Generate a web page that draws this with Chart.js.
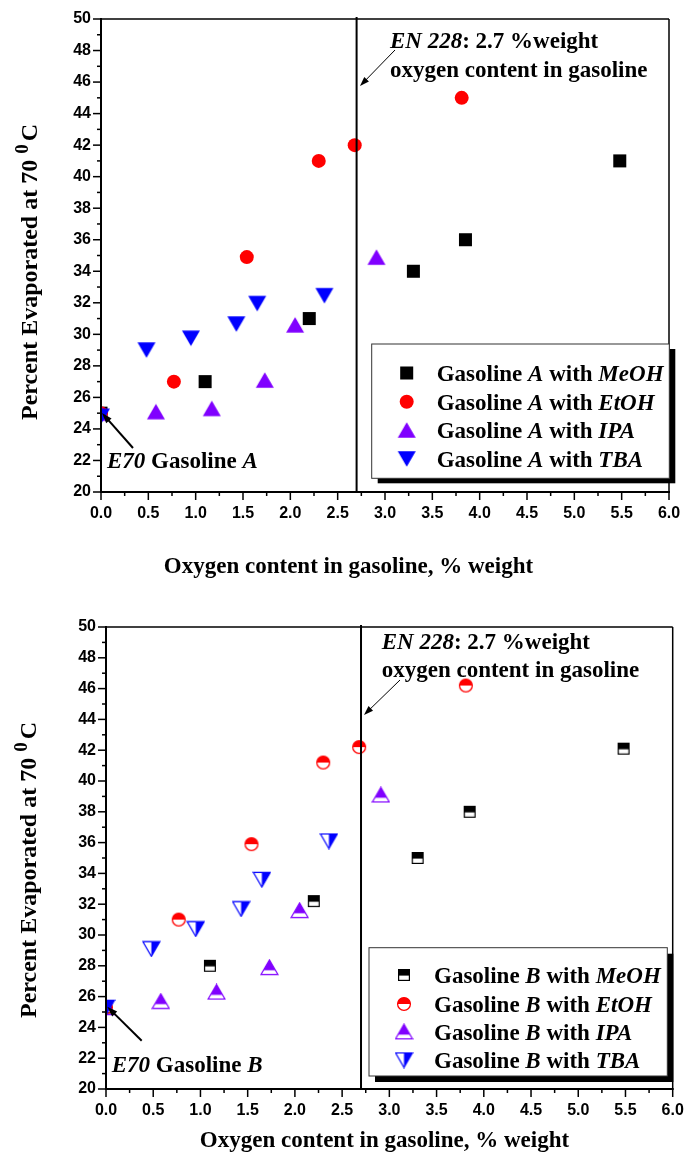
<!DOCTYPE html>
<html>
<head>
<meta charset="utf-8">
<script src="https://cdn.jsdelivr.net/npm/chart.js@4.4.1/dist/chart.umd.min.js"></script>
<style>
  html, body { margin: 0; padding: 0; background: #fff; }
  canvas { display: block; }
</style>
</head>
<body>
<canvas id="chartA" width="686" height="590"></canvas>
<canvas id="chartB" width="686" height="565"></canvas>
<script>
// Oxygen content in gasoline, % weight (x values for each additive)
const meohO2 = [0, 1.1, 2.2, 3.3, 3.85, 5.48];
const etohO2 = [0, 0.77, 1.54, 2.3, 2.68, 3.81];
const ipaO2 = [0, 0.58, 1.17, 1.73, 2.05, 2.91];
const tbaO2 = [0, 0.48, 0.95, 1.43, 1.65, 2.36];

// Percent evaporated at 70 C, gasoline A
const meohA = [25, 27, 31, 34, 36, 41];
const etohA = [25, 27, 34.9, 41, 42, 45];
const ipaA = [25, 25.1, 25.3, 27.1, 30.6, 34.9];
const tbaA = [24.8, 29, 29.75, 30.65, 31.95, 32.45];

// Percent evaporated at 70 C, gasoline B
const meohB = [25.3, 28, 32.2, 35, 38, 42.1];
const etohB = [25.3, 31, 35.9, 41.2, 42.2, 46.2];
const ipaB = [25.3, 25.7, 26.3, 27.9, 31.6, 39.1];
const tbaB = [25.3, 29.1, 30.4, 31.7, 33.6, 36.1];

const additives = ['MeOH', 'EtOH', 'IPA', 'TBA'];
const oxygenX = [meohO2, etohO2, ipaO2, tbaO2];

// Axis ranges and tick steps
const xMin = 0, xMax = 6, xStep = 0.5;
const yMin = 20, yMax = 50, yStep = 2;
const enLimit = 2.7; // EN 228 oxygen limit, % weight

const SERIF = '"Liberation Serif", "Times New Roman", serif';
const SANS = '"Liberation Sans", Arial, sans-serif';
const PURPLE = '#8000ff';

// Small canvas used as a custom point style
function markerCanvas(w, h, draw) {
    const c = document.createElement('canvas');
    c.width = w;
    c.height = h;
    draw(c.getContext('2d'));
    return c;
}

function triPath(ctx, pts) {
    ctx.beginPath();
    ctx.moveTo(pts[0][0], pts[0][1]);
    ctx.lineTo(pts[1][0], pts[1][1]);
    ctx.lineTo(pts[2][0], pts[2][1]);
    ctx.closePath();
}

// Filled triangles (gasoline A)
const upFull = markerCanvas(20, 18, ctx => {
    triPath(ctx, [[10, 1.2], [1, 16.8], [19, 16.8]]);
    ctx.fillStyle = PURPLE;
    ctx.fill();
});
const downFull = markerCanvas(20, 18, ctx => {
    triPath(ctx, [[1, 1.2], [19, 1.2], [10, 16.8]]);
    ctx.fillStyle = '#0000ff';
    ctx.fill();
});

// Half filled markers (gasoline B)
const squareHalf = markerCanvas(14, 14, ctx => {
    ctx.fillStyle = '#000';
    ctx.fillRect(1, 1, 12, 6.6);
    ctx.strokeStyle = '#000';
    ctx.lineWidth = 1.2;
    ctx.strokeRect(1.6, 1.6, 10.8, 10.8);
});
const circleHalf = markerCanvas(16, 16, ctx => {
    ctx.fillStyle = '#ff0000';
    ctx.beginPath();
    ctx.arc(8, 8, 6.6, Math.PI, 2 * Math.PI);
    ctx.closePath();
    ctx.fill();
    ctx.strokeStyle = '#ff0000';
    ctx.lineWidth = 1.3;
    ctx.beginPath();
    ctx.arc(8, 8, 6.4, 0, 2 * Math.PI);
    ctx.stroke();
});
const upHalf = markerCanvas(19, 17, ctx => {
    const pts = [[9.5, 1], [1, 15.7], [18, 15.7]];
    ctx.save();
    triPath(ctx, pts);
    ctx.clip();
    ctx.fillStyle = PURPLE;
    ctx.fillRect(0, 0, 19, 11.4);
    ctx.restore();
    ctx.strokeStyle = PURPLE;
    ctx.lineWidth = 1.2;
    triPath(ctx, pts);
    ctx.stroke();
});
const downHalf = markerCanvas(19, 17, ctx => {
    const pts = [[1, 1.3], [18, 1.3], [9.5, 16]];
    ctx.save();
    triPath(ctx, pts);
    ctx.clip();
    ctx.fillStyle = '#0000ff';
    ctx.fillRect(9.5, 0, 10, 17);
    ctx.restore();
    ctx.strokeStyle = '#0000ff';
    ctx.lineWidth = 1.2;
    triPath(ctx, pts);
    ctx.stroke();
});

const stylesA = [
    { pointStyle: 'rect', pointRadius: 9.2, color: '#000' },
    { pointStyle: 'circle', pointRadius: 7, color: '#ff0000' },
    { pointStyle: upFull, pointRadius: 9, color: PURPLE },
    { pointStyle: downFull, pointRadius: 9, color: '#0000ff' }
];
const stylesB = [
    { pointStyle: squareHalf, pointRadius: 7, color: '#000' },
    { pointStyle: circleHalf, pointRadius: 7, color: '#ff0000' },
    { pointStyle: upHalf, pointRadius: 8, color: PURPLE },
    { pointStyle: downHalf, pointRadius: 8, color: '#0000ff' }
];

function line(ctx, x1, y1, x2, y2) {
    ctx.beginPath();
    ctx.moveTo(x1, y1);
    ctx.lineTo(x2, y2);
    ctx.stroke();
}

// Text made of bold / bold italic pieces
function drawRich(ctx, parts, x, y, size) {
    let cx = x;
    for (const [txt, it] of parts) {
        ctx.font = (it ? 'italic ' : '') + 'bold ' + size + 'px ' + SERIF;
        ctx.fillText(txt, cx, y);
        cx += ctx.measureText(txt).width;
    }
    return cx;
}

function arrow(ctx, x1, y1, x2, y2, w, head) {
    const ang = Math.atan2(y2 - y1, x2 - x1);
    ctx.lineWidth = w;
    line(ctx, x1, y1, x2 - Math.cos(ang) * head * 0.6, y2 - Math.sin(ang) * head * 0.6);
    ctx.beginPath();
    ctx.moveTo(x2, y2);
    ctx.lineTo(x2 - head * Math.cos(ang - 0.33), y2 - head * Math.sin(ang - 0.33));
    ctx.lineTo(x2 - head * Math.cos(ang + 0.33), y2 - head * Math.sin(ang + 0.33));
    ctx.closePath();
    ctx.fill();
}

function drawMarker(ctx, st, x, y) {
    if (typeof st.pointStyle === 'object') {
        ctx.drawImage(st.pointStyle, x - st.pointStyle.width / 2, y - st.pointStyle.height / 2);
    } else if (st.pointStyle === 'rect') {
        const s = st.pointRadius * Math.SQRT1_2;
        ctx.fillStyle = st.color;
        ctx.fillRect(x - s, y - s, 2 * s, 2 * s);
    } else {
        ctx.fillStyle = st.color;
        ctx.beginPath();
        ctx.arc(x, y, st.pointRadius, 0, 2 * Math.PI);
        ctx.fill();
    }
}

// Frame, ticks and EN 228 line over the points; notes, legend and titles at the end
const decorPlugin = {
    id: 'decor',
    afterDatasetsDraw(chart) {
        const { ctx, chartArea: a, scales: { x, y } } = chart;
        ctx.save();
        ctx.strokeStyle = '#000';
        ctx.fillStyle = '#000';
        ctx.lineWidth = 1.5;
        line(ctx, a.left, a.top, a.right, a.top);
        line(ctx, a.right, a.top, a.right, a.bottom);
        ctx.lineWidth = 2;
        line(ctx, a.left, a.top - 1, a.left, a.bottom + 1);
        line(ctx, a.left - 1, a.bottom, a.right + 1, a.bottom);

        ctx.lineWidth = 1.5;
        for (let v = yMin; v <= yMax; v += 1) {
            const py = y.getPixelForValue(v);
            line(ctx, a.left - (v % yStep === 0 ? 8 : 4), py, a.left, py);
        }
        for (let i = 0; i <= (xMax - xMin) / (xStep / 2); i++) {
            const px = x.getPixelForValue(xMin + i * xStep / 2);
            line(ctx, px, a.bottom, px, a.bottom + (i % 2 === 0 ? 8 : 4));
        }

        // EN 228 limit
        ctx.lineWidth = 2;
        const lx = x.getPixelForValue(enLimit);
        line(ctx, lx, a.top - 2, lx, a.bottom);
        ctx.restore();
    },
    afterDraw(chart) {
        const p = chart.options.plugins.decor;
        const ctx = chart.ctx;
        ctx.save();
        ctx.fillStyle = '#000';
        ctx.strokeStyle = '#000';
        ctx.textBaseline = 'alphabetic';
        ctx.textAlign = 'left';

        // EN 228 note
        drawRich(ctx, [['EN 228', true], [': 2.7 %weight', false]], p.note.x, p.note.base[0], 23);
        drawRich(ctx, [['oxygen content in gasoline', false]], p.note.x, p.note.base[1], 23);
        arrow(ctx, ...p.note.arrow, 1, 10);

        // E70 note
        drawRich(ctx, [['E70', true], [' Gasoline ', false], [p.gasoline, true]], p.e70.x, p.e70.base, 23);
        arrow(ctx, ...p.e70.arrow, 2, 11);

        // Legend with shadow
        const [bx1, by1, bx2, by2] = p.legend.box;
        ctx.fillStyle = '#000';
        ctx.fillRect(bx1 + p.legend.shadow[0], by1 + p.legend.shadow[1], bx2 - bx1, by2 - by1);
        ctx.fillStyle = '#fff';
        ctx.fillRect(bx1, by1, bx2 - bx1, by2 - by1);
        ctx.strokeStyle = '#333';
        ctx.lineWidth = 1;
        ctx.strokeRect(bx1, by1, bx2 - bx1, by2 - by1);
        p.styles.forEach((st, i) => {
            const ry = p.legend.rows[i];
            drawMarker(ctx, st, p.legend.markerX, ry);
            ctx.fillStyle = '#000';
            drawRich(ctx, [['Gasoline ', false], [p.gasoline, true], [' with ', false], [additives[i], true]],
                p.legend.textX, ry + 8, 23);
        });

        // X title
        ctx.font = 'bold 23px ' + SERIF;
        ctx.textAlign = 'center';
        ctx.fillText('Oxygen content in gasoline, % weight', p.xTitle.x, p.xTitle.base);

        // Y title with superscript
        ctx.textAlign = 'left';
        ctx.translate(p.yTitle.x, p.yTitle.y);
        ctx.rotate(-Math.PI / 2);
        ctx.font = 'bold 24px ' + SERIF;
        const main = 'Percent Evaporated at 70 ';
        ctx.fillText(main, 0, 0);
        let cx = ctx.measureText(main).width;
        ctx.font = 'bold 19px ' + SERIF;
        ctx.fillText('0', cx, -9);
        cx += ctx.measureText('0').width + 3;
        ctx.font = 'bold 24px ' + SERIF;
        ctx.fillText('C', cx, 0);
        ctx.restore();
    }
};

class PanelChart {
    constructor(canvasId) {
        this.canvasId = canvasId;
        this.chart = null;
    }

    // Build one scatter panel
    init(seriesY, styles, decor) {
        const canvas = document.getElementById(this.canvasId);
        const W = canvas.width, H = canvas.height;
        const area = decor.area;
        const datasets = seriesY.map((ys, i) => ({
            label: 'Gasoline ' + decor.gasoline + ' with ' + additives[i],
            data: oxygenX[i].map((v, k) => ({ x: v, y: ys[k] })),
            pointStyle: styles[i].pointStyle,
            pointRadius: styles[i].pointRadius,
            backgroundColor: styles[i].color,
            borderColor: styles[i].color,
            borderWidth: 0,
            showLine: false,
            clip: 0,
            order: 3 - i
        }));
        const tickFont = { family: SANS, weight: 'bold', size: 16 };
        this.chart = new Chart(canvas.getContext('2d'), {
            type: 'scatter',
            data: { datasets: datasets },
            options: {
                responsive: false,
                animation: false,
                events: [],
                layout: { padding: { left: 0, top: area.top, right: W - area.right, bottom: 0 } },
                plugins: {
                    legend: { display: false },
                    tooltip: { enabled: false },
                    decor: Object.assign({ styles: styles }, decor)
                },
                scales: {
                    x: {
                        type: 'linear', min: xMin, max: xMax,
                        afterFit: s => {
                            s.height = H - area.bottom;
                            s.paddingLeft = 0;
                            s.paddingRight = 0;
                        },
                        grid: { display: false, drawTicks: false },
                        border: { display: false },
                        ticks: {
                            stepSize: xStep, autoSkip: false, maxRotation: 0, padding: 12,
                            color: '#000', font: tickFont,
                            callback: v => Number(v).toFixed(1)
                        }
                    },
                    y: {
                        type: 'linear', min: yMin, max: yMax,
                        afterFit: s => {
                            s.width = area.left;
                            s.paddingTop = 0;
                            s.paddingBottom = 0;
                        },
                        grid: { display: false, drawTicks: false },
                        border: { display: false },
                        ticks: {
                            stepSize: yStep, padding: 10, color: '#000', font: tickFont,
                            callback: v => String(v)
                        }
                    }
                }
            },
            plugins: [decorPlugin]
        });
    }
}

new PanelChart('chartA').init([meohA, etohA, ipaA, tbaA], stylesA, {
    gasoline: 'A',
    area: { left: 101, top: 19, right: 669, bottom: 492 },
    legend: { box: [371.7, 344, 669.3, 478.3], shadow: [6, 5], markerX: 406.7, textX: 436.7, rows: [373, 401.7, 430, 459] },
    note: { x: 390, base: [48, 77], arrow: [395, 50, 360, 86] },
    e70: { x: 107, base: 468, arrow: [133, 448, 102, 413] },
    yTitle: { x: 37, y: 420 },
    xTitle: { x: 348.5, base: 573 }
});

new PanelChart('chartB').init([meohB, etohB, ipaB, tbaB], stylesB, {
    gasoline: 'B',
    area: { left: 106, top: 37, right: 672.7, bottom: 499 },
    legend: { box: [369, 357.7, 667.3, 486], shadow: [6, 6], markerX: 404, textX: 434, rows: [385, 414, 441.7, 470] },
    note: { x: 381.7, base: [59.3, 86.7], arrow: [400, 90, 364, 125] },
    e70: { x: 111.7, base: 481.7, arrow: [141.7, 450.7, 107.3, 416.7] },
    yTitle: { x: 36, y: 428 },
    xTitle: { x: 384.5, base: 557 }
});
</script>
</body>
</html>
